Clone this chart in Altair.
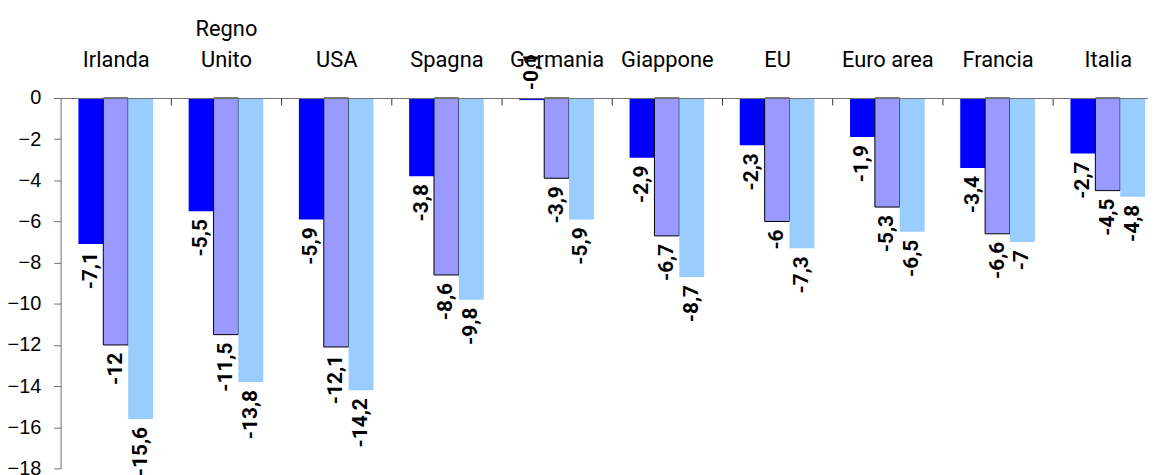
import altair as alt
import pandas as pd

countries = ["Irlanda", "Regno Unito", "USA", "Spagna", "Germania",
             "Giappone", "EU", "Euro area", "Francia", "Italia"]
s1 = [-7.1, -5.5, -5.9, -3.8, -0.1, -2.9, -2.3, -1.9, -3.4, -2.7]
s2 = [-12, -11.5, -12.1, -8.6, -3.9, -6.7, -6, -5.3, -6.6, -4.5]
s3 = [-15.6, -13.8, -14.2, -9.8, -5.9, -8.7, -7.3, -6.5, -7, -4.8]
series = ["Serie 1", "Serie 2", "Serie 3"]
colors = ["#0000FF", "#9999FF", "#99CCFF"]
y_ticks = list(range(-18, 1, 2))

rows = []
for i, c in enumerate(countries):
    for s, vals in zip(series, [s1, s2, s3]):
        rows.append({"paese": c, "serie": s, "valore": vals[i]})
df = pd.DataFrame(rows)

NARROW = "Roboto, Liberation Sans, sans-serif"
REG = "Liberation Sans, Arial, sans-serif"
AXC = "#707070"

xscale = alt.Scale(range=[0, 1110], paddingInner=0.323, paddingOuter=0.1615)
xoff = alt.XOffset("serie:N", sort=series,
                   scale=alt.Scale(paddingInner=0, paddingOuter=0))
yscale = alt.Scale(domain=[-18, 0], nice=False, zero=False)

# x axis placed on the zero line (top edge), ticks pointing down between groups,
# country labels lifted above the axis line
x_axis = alt.Axis(orient="bottom", offset=-373, title=None, labelAngle=0,
                  ticks=True, tickSize=7, tickColor="#333333", tickWidth=1,
                  tickOffset=55.5, labelOffset=-55.5,
                  domain=True, domainColor=AXC, domainWidth=1, zindex=1,
                  labelFont=NARROW, labelFontSize=22, labelColor="black",
                  labelPadding=-70, labelBaseline="alphabetic", labelLineHeight=31,
                  labelExpr="datum.label == 'Regno Unito' ? ['Regno', 'Unito'] : ['', datum.label]")

y_axis = alt.Axis(values=y_ticks, title=None, grid=False, orient="left",
                  domainColor=AXC, tickColor=AXC, tickSize=7, labelPadding=13,
                  labelFont=REG, labelFontSize=20, labelColor="black")

base = alt.Chart(df).transform_calculate(
    etichetta="replace(toString(datum.valore), '.', ',')"
)

bars = base.mark_bar(stroke="black").encode(
    x=alt.X("paese:N", sort=countries, scale=xscale, axis=x_axis),
    xOffset=xoff,
    y=alt.Y("valore:Q", scale=yscale, axis=y_axis),
    color=alt.Color("serie:N", sort=series,
                    scale=alt.Scale(domain=series, range=colors), legend=None),
    strokeWidth=alt.condition(alt.datum.serie == "Serie 2", alt.value(1), alt.value(0)),
)

labels = base.transform_filter(alt.datum.valore < -0.5).mark_text(
    angle=270, align="right", baseline="middle", dx=-8,
    font=NARROW, fontSize=21, fontWeight="bold", color="black"
).encode(
    x=alt.X("paese:N", sort=countries, scale=xscale),
    xOffset=xoff,
    y=alt.Y("valore:Q", scale=yscale),
    text="etichetta:N",
)

labels_small = base.transform_filter(alt.datum.valore >= -0.5).mark_text(
    angle=270, align="left", baseline="middle", dx=10,
    font=NARROW, fontSize=21, fontWeight="bold", color="black"
).encode(
    x=alt.X("paese:N", sort=countries, scale=xscale),
    xOffset=xoff,
    y=alt.Y("valore:Q", scale=yscale),
    text="etichetta:N",
)

chart = alt.layer(bars, labels, labels_small).properties(
    width=1095, height=373,
    autosize=alt.AutoSizeParams(type="none"),
    padding={"left": 53, "top": 89, "right": 0, "bottom": 5},
    background="white",
).configure_view(stroke=None)

chart.save("out.html", embed_options={"renderer": "svg", "actions": False})
